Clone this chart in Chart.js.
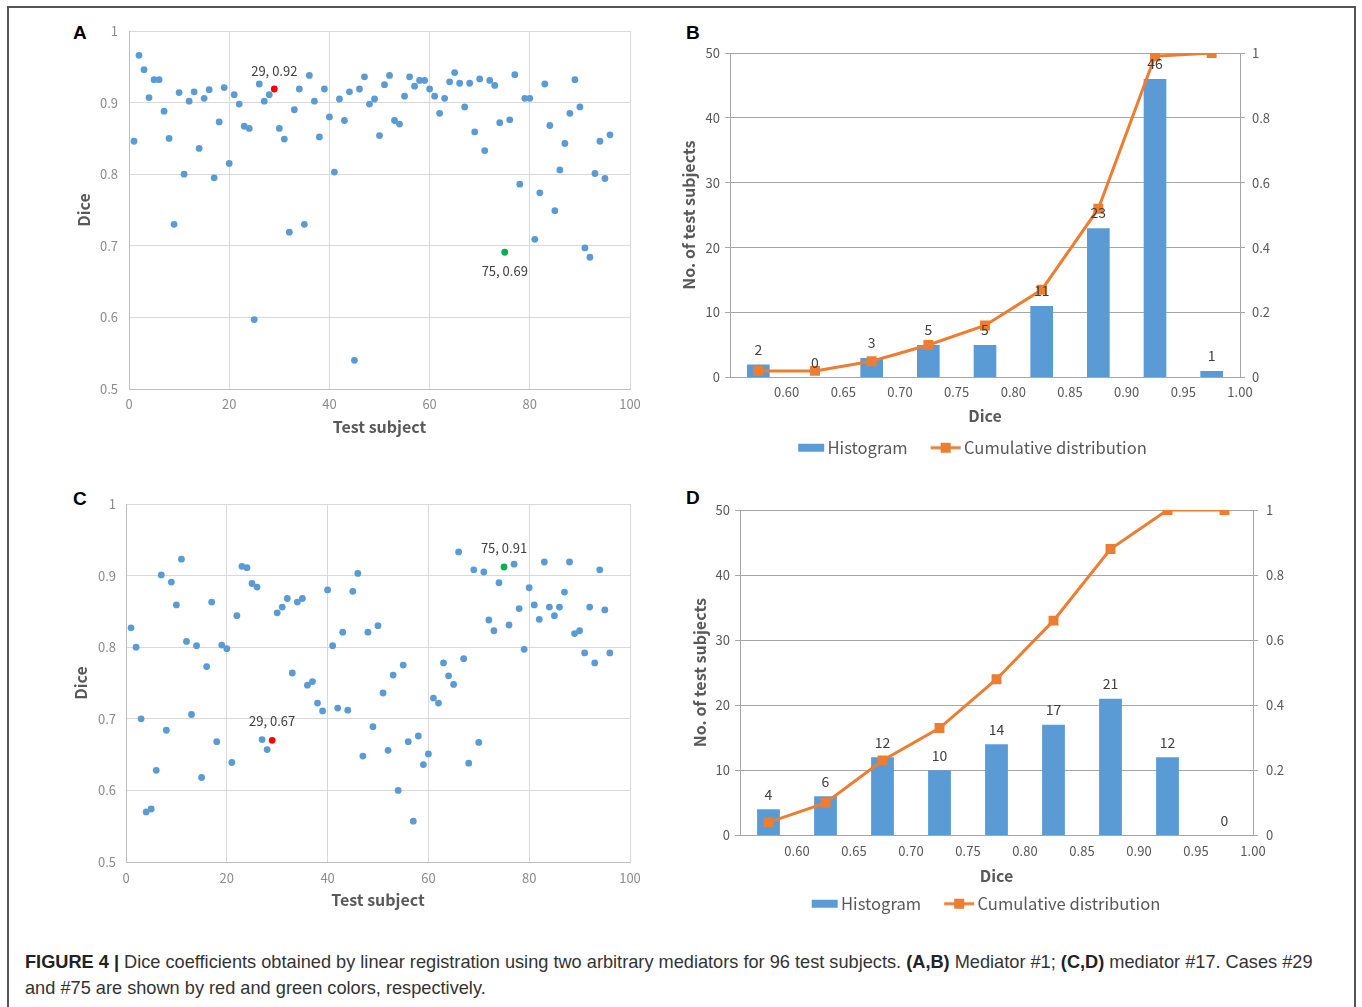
<!DOCTYPE html>
<html>
<head>
<meta charset="utf-8">
<script src="https://cdn.jsdelivr.net/npm/chart.js@4.4.1/dist/chart.umd.min.js"></script>
<style>
  body { margin: 0; background: #fff; width: 1362px; height: 1007px; overflow: hidden; position: relative; }
  .frame { position: absolute; left: 7px; top: 6px; width: 1345px; height: 1030px; border: 2px solid #555; }
  canvas { position: absolute; }
  .tag { position: absolute; font: bold 19px "Liberation Sans", Arial, sans-serif; color: #000; }
  .caption { position: absolute; left: 25px; top: 949px; white-space: nowrap;
    font: 18.2px/26px "Liberation Sans Narrow", "Liberation Sans", Arial, sans-serif; color: #333; }
  .caption b { color: #222; }
</style>
</head>
<body>
<div class="frame"></div>
<div class="tag" style="left:73px;top:22px">A</div>
<div class="tag" style="left:686px;top:22px">B</div>
<div class="tag" style="left:73px;top:488px">C</div>
<div class="tag" style="left:686px;top:487px">D</div>

<canvas id="chartA" width="600" height="430" style="left:60px;top:20px"></canvas>
<canvas id="chartC" width="600" height="430" style="left:60px;top:490px"></canvas>
<canvas id="chartB" width="680" height="466" style="left:650px;top:0px"></canvas>
<canvas id="chartD" width="680" height="462" style="left:660px;top:460px"></canvas>

<div class="caption"><b>FIGURE 4 |</b> Dice coefficients obtained by linear registration using two arbitrary mediators for 96 test subjects. <b>(A,B)</b> Mediator #1; <b>(C,D)</b> mediator #17. Cases #29<br>and #75 are shown by red and green colors, respectively.</div>

<script>
// test subject numbers (x of the scatter panels)
var subjectNo = [
  1, 2, 3, 4, 5, 6, 7, 8, 9, 10, 11, 12, 13, 14, 15, 16, 17, 18, 19, 20,
  21, 22, 23, 24, 25, 26, 27, 28, 29, 30, 31, 32, 33, 34, 35, 36, 37, 38, 39, 40,
  41, 42, 43, 44, 45, 46, 47, 48, 49, 50, 51, 52, 53, 54, 55, 56, 57, 58, 59, 60,
  61, 62, 63, 64, 65, 66, 67, 68, 69, 70, 71, 72, 73, 74, 75, 76, 77, 78, 79, 80,
  81, 82, 83, 84, 85, 86, 87, 88, 89, 90, 91, 92, 93, 94, 95, 96
];

// panel A: mediator #1
var diceA = [
  0.846, 0.966, 0.946, 0.907, 0.932, 0.932, 0.888, 0.850, 0.730, 0.914,
  0.800, 0.902, 0.915, 0.836, 0.906, 0.918, 0.795, 0.873, 0.921, 0.815,
  0.911, 0.898, 0.867, 0.864, 0.597, 0.926, 0.902, 0.911, 0.919, 0.864,
  0.849, 0.719, 0.890, 0.919, 0.730, 0.938, 0.902, 0.852, 0.919, 0.880,
  0.803, 0.905, 0.875, 0.915, 0.540, 0.919, 0.936, 0.898, 0.905, 0.854,
  0.925, 0.938, 0.875, 0.870, 0.909, 0.936, 0.923, 0.931, 0.931, 0.919,
  0.909, 0.885, 0.906, 0.929, 0.942, 0.927, 0.894, 0.927, 0.859, 0.933,
  0.833, 0.931, 0.924, 0.872, 0.691, 0.876, 0.939, 0.786, 0.906, 0.906,
  0.709, 0.774, 0.926, 0.868, 0.749, 0.806, 0.843, 0.885, 0.932, 0.894,
  0.697, 0.684, 0.801, 0.846, 0.794, 0.855
];

// panel C: mediator #17
var diceC = [
  0.827, 0.800, 0.700, 0.570, 0.574, 0.628, 0.901, 0.684, 0.891, 0.859,
  0.923, 0.808, 0.706, 0.802, 0.618, 0.773, 0.863, 0.668, 0.803, 0.798,
  0.639, 0.844, 0.913, 0.911, 0.889, 0.884, 0.671, 0.657, 0.670, 0.848,
  0.856, 0.868, 0.764, 0.863, 0.868, 0.747, 0.752, 0.722, 0.711, 0.880,
  0.802, 0.715, 0.821, 0.712, 0.878, 0.903, 0.648, 0.821, 0.689, 0.830,
  0.736, 0.656, 0.761, 0.600, 0.775, 0.668, 0.557, 0.676, 0.636, 0.651,
  0.729, 0.722, 0.778, 0.760, 0.748, 0.933, 0.784, 0.638, 0.908, 0.667,
  0.905, 0.838, 0.823, 0.890, 0.912, 0.831, 0.916, 0.854, 0.797, 0.883,
  0.859, 0.839, 0.919, 0.856, 0.844, 0.856, 0.877, 0.919, 0.819, 0.823,
  0.792, 0.856, 0.778, 0.908, 0.852, 0.792
];

// highlighted cases
var caseColors = { 29: '#FF0000', 75: '#00B050' };

// panels B and D: histogram bins
var binCenters = [0.575, 0.625, 0.675, 0.725, 0.775, 0.825, 0.875, 0.925, 0.975];
var countsB = [2, 0, 3, 5, 5, 11, 23, 46, 1];
var cumulativeB = [0.02, 0.02, 0.05, 0.10, 0.16, 0.27, 0.52, 0.99, 1.00];
var countsD = [4, 6, 12, 10, 14, 17, 21, 12, 0];
var cumulativeD = [0.04, 0.10, 0.23, 0.33, 0.48, 0.66, 0.88, 1.00, 1.00];

var CJK = '"Noto Sans CJK JP", "Noto Sans", sans-serif';
Chart.defaults.font.family = CJK;
Chart.defaults.animation = false;
Chart.defaults.responsive = false;
Chart.defaults.devicePixelRatio = 1;
Chart.defaults.plugins.tooltip.enabled = false;

// "1", "0.9", "0.8" ... like the original axes
function shortNum(v) { return String(+v.toFixed(2)); }

var caseLabels = {
  id: 'caseLabels',
  afterDatasetsDraw: function(chart, args, opts) {
    var ctx = chart.ctx;
    var meta = chart.getDatasetMeta(0);
    var data = chart.data.datasets[0].data;
    ctx.save();
    ctx.font = '13px ' + CJK;
    ctx.fillStyle = '#404040';
    ctx.textAlign = 'center';
    ctx.textBaseline = 'middle';
    opts.cases.forEach(function(c) {
      var i = subjectNo.indexOf(c.no);
      var pt = meta.data[i];
      ctx.fillText(c.no + ', ' + data[i].y.toFixed(2), pt.x, pt.y + c.dy);
    });
    ctx.restore();
  }
};

var barValues = {
  id: 'barValues',
  afterDatasetsDraw: function(chart) {
    var ctx = chart.ctx;
    var meta = chart.getDatasetMeta(0);
    var data = chart.data.datasets[0].data;
    ctx.save();
    ctx.font = '14px ' + CJK;
    ctx.fillStyle = '#404040';
    ctx.textAlign = 'center';
    ctx.textBaseline = 'middle';
    meta.data.forEach(function(bar, i) {
      ctx.fillText(String(data[i].y), bar.x, bar.y - 15);
    });
    ctx.restore();
  }
};

function scatterChart(id, values, L) {
  var pts = values.map(function(v, i) { return { x: subjectNo[i], y: v }; });
  var colors = subjectNo.map(function(n) { return caseColors[n] || '#5B9BD5'; });
  return new Chart(document.getElementById(id), {
    type: 'scatter',
    data: {
      datasets: [{
        data: pts,
        pointRadius: 3.4,
        pointBorderWidth: 0,
        pointBackgroundColor: colors,
        pointBorderColor: colors
      }]
    },
    options: {
      layout: { padding: { top: L.top, left: 0, right: 30, bottom: 0 } },
      plugins: { legend: { display: false }, caseLabels: { cases: L.cases } },
      scales: {
        x: {
          type: 'linear', min: 0, max: 100,
          grid: { color: '#D9D9D9', drawTicks: false },
          border: { color: '#BFBFBF' },
          ticks: { stepSize: 20, color: '#8C8C8C', font: { size: 13 }, padding: L.xTickPad, maxRotation: 0 },
          title: { display: true, text: 'Test subject', color: '#595959', font: { size: 16, weight: 'bold' }, padding: { bottom: L.xTitlePad } },
          afterFit: function(s) { s.height = L.xh; }
        },
        y: {
          min: 0.5, max: 1,
          // invisible tick marks keep the labels off the axis without padding the top
          grid: { color: '#D9D9D9', tickColor: 'rgba(0,0,0,0)', tickLength: L.yTickPad },
          border: { color: '#BFBFBF' },
          ticks: { stepSize: 0.1, color: '#8C8C8C', font: { size: 13 }, padding: 0, callback: shortNum },
          title: { display: true, text: 'Dice', color: '#595959', font: { size: 16, weight: 'bold' }, padding: { top: L.yTitlePad } },
          afterFit: function(s) { s.width = L.yw; }
        }
      }
    },
    plugins: [caseLabels]
  });
}

function legendIcon(kind) {
  var c = document.createElement('canvas');
  c.width = 56; c.height = 12;
  var g = c.getContext('2d');
  if (kind === 'bar') {
    g.fillStyle = '#5B9BD5';
    g.fillRect(27, 2, 26, 8);
  } else {
    g.fillStyle = '#ED7D31';
    g.fillRect(23, 4.5, 30, 3);
    g.fillRect(33, 1, 10, 10);
  }
  return c;
}
var legendIcons = [legendIcon('bar'), legendIcon('line')];

function histChart(id, counts, cumulative, L) {
  return new Chart(document.getElementById(id), {
    type: 'bar',
    data: {
      datasets: [{
        type: 'bar',
        label: 'Histogram',
        data: binCenters.map(function(x, i) { return { x: x, y: counts[i] }; }),
        backgroundColor: '#5B9BD5',
        barPercentage: 0.4,
        categoryPercentage: 1,
        yAxisID: 'y',
        order: 1
      }, {
        type: 'line',
        label: 'Cumulative distribution',
        data: binCenters.map(function(x, i) { return { x: x, y: cumulative[i] }; }),
        borderColor: '#ED7D31',
        backgroundColor: '#ED7D31',
        borderWidth: 3,
        pointStyle: 'rect',
        pointRadius: 7,
        pointBorderWidth: 0,
        pointBackgroundColor: '#ED7D31',
        tension: 0,
        yAxisID: 'y1',
        order: 0
      }]
    },
    options: {
      layout: { padding: { top: L.top, left: 0, right: L.right, bottom: 0 } },
      plugins: {
        legend: {
          position: 'bottom',
          labels: {
            usePointStyle: true,
            pointStyleWidth: 40,
            padding: 8,
            color: '#595959',
            font: { size: 16.6 },
            sort: function(a, b) { return a.datasetIndex - b.datasetIndex; },
            generateLabels: function(chart) {
              var items = Chart.defaults.plugins.legend.labels.generateLabels(chart);
              items.forEach(function(it) { it.pointStyle = legendIcons[it.datasetIndex]; });
              return items;
            }
          }
        }
      },
      scales: {
        x: {
          type: 'linear', min: 0.55, max: 1.0, offset: false,
          grid: { display: false, drawTicks: false },
          border: { color: '#A6A6A6' },
          ticks: {
            stepSize: 0.05, color: '#595959', font: { size: 13 }, padding: L.xTickPad,
            maxRotation: 0, autoSkip: false,
            callback: function(v) { return v < 0.58 ? '' : v.toFixed(2); }
          },
          title: { display: true, text: 'Dice', color: '#595959', font: { size: 16, weight: 'bold' }, padding: { bottom: L.xTitlePad } },
          afterFit: function(s) { s.height = L.xh; }
        },
        y: {
          min: 0, max: 50,
          grid: { color: '#A6A6A6', tickLength: 5 },
          border: { color: '#A6A6A6' },
          ticks: { stepSize: 10, color: '#595959', font: { size: 13 }, padding: 5 },
          title: { display: true, text: 'No. of test subjects', color: '#595959', font: { size: 16, weight: 'bold' }, padding: { top: L.yTitlePad } },
          afterFit: function(s) { s.width = L.yw; }
        },
        y1: {
          position: 'right', min: 0, max: 1,
          grid: { drawOnChartArea: false, color: '#A6A6A6', tickLength: 5 },
          border: { color: '#A6A6A6' },
          ticks: { stepSize: 0.2, color: '#595959', font: { size: 13 }, padding: L.y1TickPad, callback: shortNum },
          afterFit: function(s) { s.width = L.y1w; }
        }
      }
    },
    plugins: [barValues]
  });
}

scatterChart('chartA', diceA, {
  top: 11, yw: 69, xh: 61, yTitlePad: 14.4, xTitlePad: 13.4, yTickPad: 11, xTickPad: 7,
  cases: [{ no: 29, dy: -18 }, { no: 75, dy: 19 }]
});
scatterChart('chartC', diceC, {
  top: 14, yw: 66, xh: 58, yTitlePad: 11.4, xTitlePad: 10.4, yTickPad: 10, xTickPad: 8,
  cases: [{ no: 29, dy: -19 }, { no: 75, dy: -19 }]
});
histChart('chartB', countsB, cumulativeB, {
  top: 53, right: 54, yw: 80, y1w: 36, xh: 54, yTitlePad: 29.4, xTitlePad: 5.4, xTickPad: 7, y1TickPad: 7
});
histChart('chartD', countsD, cumulativeD, {
  top: 50, right: 47, yw: 80, y1w: 40, xh: 52, yTitlePad: 30.4, xTitlePad: 1.4, xTickPad: 8, y1TickPad: 8
});
</script>
</body>
</html>
